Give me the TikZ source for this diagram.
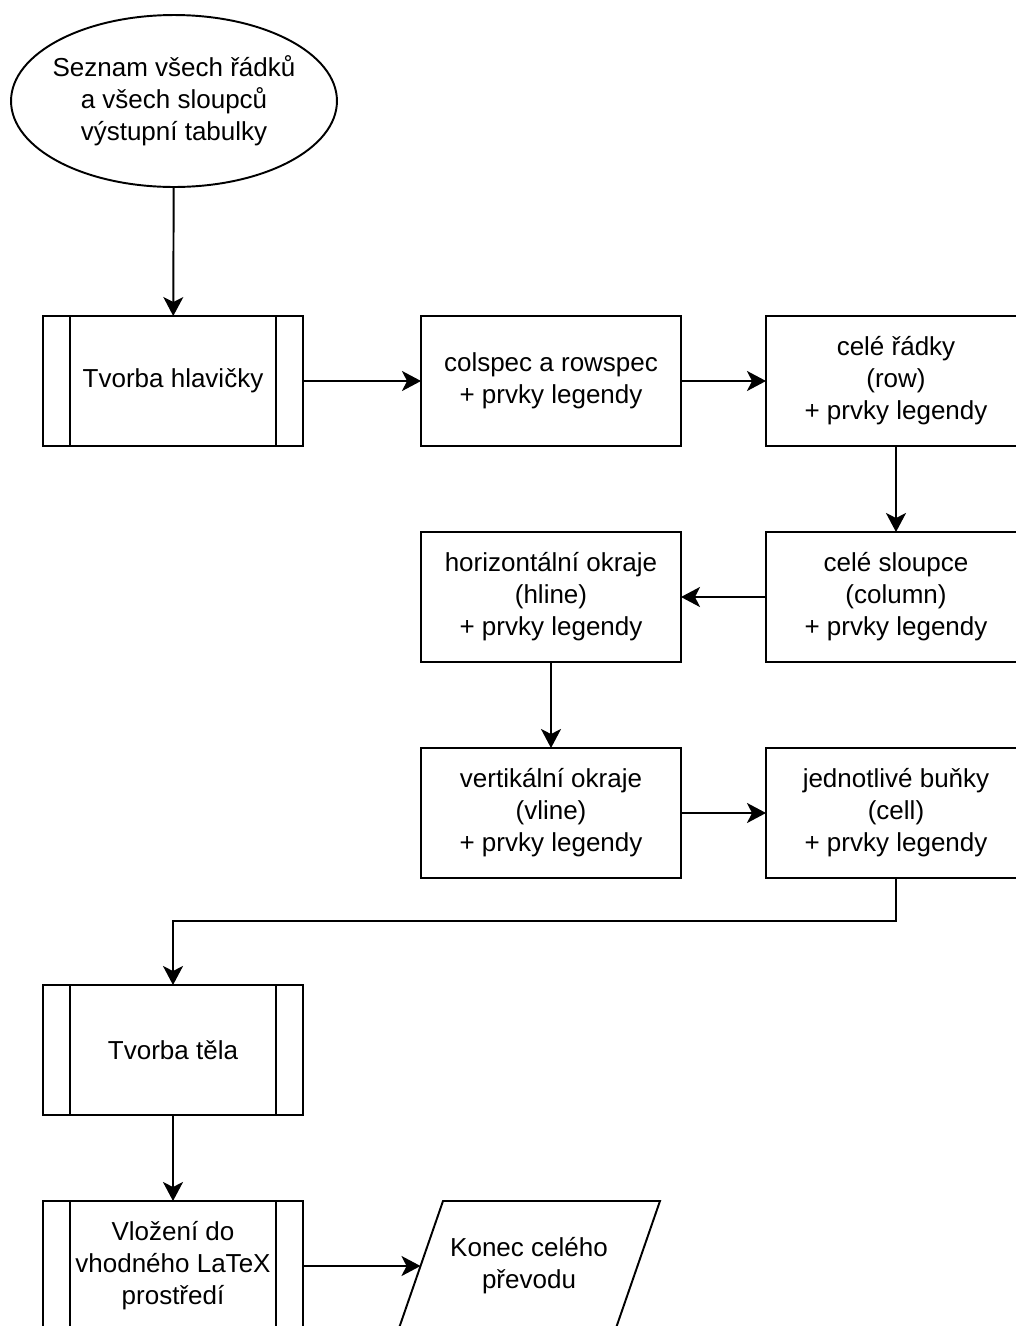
\documentclass[tikz,border=0pt]{standalone}
\usepackage{fontspec}
\setmainfont{Liberation Sans}
\usetikzlibrary{arrows.meta}
\usetikzlibrary{shapes.geometric}

\begin{document}
\begin{tikzpicture}[
    x=0.02cm, y=-0.02cm,
    line width=1.1pt,
    font=\fontsize{14.8}{18.2}\selectfont,
    >={Stealth[length=0.38cm, width=0.4cm, inset=0.1cm]},
    krok/.style={draw, rectangle, align=center, minimum width=5.2cm, minimum height=2.6cm, inner sep=0pt, outer sep=0pt},
    podproces/.style={krok},
    vstup/.style={draw, ellipse, align=center, minimum width=6.52cm, minimum height=3.44cm, inner xsep=-0.15cm, inner ysep=0pt},
    vystup/.style={rectangle, align=center, minimum width=4.34cm, minimum height=2.6cm, inner sep=0pt, outer sep=0pt},
    ]
    \useasboundingbox (0,0) rectangle (1016,1326);
    \clip (0,0) rectangle (1016,1326);

    \node[vstup] (seznam) at (174,101) {Seznam všech řádků\\a všech sloupců\\výstupní tabulky};
    \node[podproces] (hlavicka) at (173,381) {Tvorba hlavičky};
    \node[krok] (colspec) at (551,381) {colspec a rowspec\\+ prvky legendy};
    \node[krok] (radky) at (896,381) {celé řádky\\(row)\\+ prvky legendy};
    \node[krok] (sloupce) at (896,597) {celé sloupce\\(column)\\+ prvky legendy};
    \node[krok] (hline) at (551,597) {horizontální okraje\\(hline)\\+ prvky legendy};
    \node[krok] (vline) at (551,813) {vertikální okraje\\(vline)\\+ prvky legendy};
    \node[krok] (bunky) at (896,813) {jednotlivé buňky\\(cell)\\+ prvky legendy};
    \node[podproces] (telo) at (173,1050) {Tvorba těla};
    \node[podproces] (vlozeni) at (173,1266) {Vložení do\\vhodného LaTeX\\prostředí};
    \node[vystup] (konec) at (529,1266) {Konec celého\\převodu};

    \foreach \p in {hlavicka,telo,vlozeni}{
        \draw ([xshift=0.54cm]\p.north west) -- ([xshift=0.54cm]\p.south west);
        \draw ([xshift=-0.54cm]\p.north east) -- ([xshift=-0.54cm]\p.south east);
    }
    \draw ([xshift=0.45cm]konec.north west) -- ([xshift=0.45cm]konec.north east)
        -- ([xshift=-0.45cm]konec.south east) -- ([xshift=-0.45cm]konec.south west) -- cycle;

    \draw[->] (seznam) -- (hlavicka);
    \draw[->] (hlavicka) -- (colspec);
    \draw[->] (colspec) -- (radky);
    \draw[->] (radky) -- (sloupce);
    \draw[->] (sloupce) -- (hline);
    \draw[->] (hline) -- (vline);
    \draw[->] (vline) -- (bunky);
    \draw[->] (bunky.south) -- ++(0,43) -| (telo.north);
    \draw[->] (telo) -- (vlozeni);
    \draw[->] (vlozeni) -- (konec);
\end{tikzpicture}
\end{document}
